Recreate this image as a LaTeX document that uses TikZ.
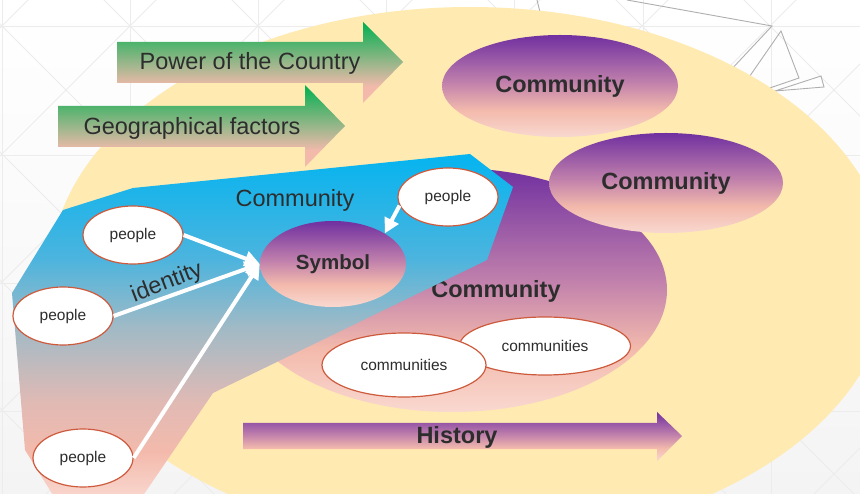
\documentclass[tikz,border=0pt]{standalone}
\usepackage{fontspec}
\setmainfont{Liberation Sans}
\usetikzlibrary{shapes.geometric,arrows.meta}
\definecolor{yel}{RGB}{255,234,178}
\definecolor{purp}{RGB}{112,48,160}
\definecolor{pinkM}{RGB}{243,186,172}
\definecolor{pinkL}{RGB}{249,216,208}
\definecolor{mauve}{RGB}{192,128,172}
\definecolor{grn}{RGB}{0,176,80}
\definecolor{blu}{RGB}{5,180,240}
\definecolor{bA}{RGB}{75,180,222}
\definecolor{bB}{RGB}{160,186,198}
\definecolor{bC}{RGB}{225,186,180}
\definecolor{txt}{RGB}{45,45,45}
\definecolor{edgec}{RGB}{205,90,60}
\definecolor{bgg}{RGB}{244,244,244}
\definecolor{gridc}{RGB}{236,236,236}
\definecolor{zig}{RGB}{175,175,175}
\pgfdeclareverticalshading{purpsh}{100bp}{color(0bp)=(pinkL); color(25bp)=(pinkL); color(38bp)=(pinkM); color(52bp)=(mauve); color(75bp)=(purp); color(100bp)=(purp)}
\pgfdeclareverticalshading{grnsh}{100bp}{color(0bp)=(pinkM); color(25bp)=(pinkM); color(35bp)=(pinkM); color(75bp)=(grn); color(100bp)=(grn)}
\pgfdeclareverticalshading{blush}{100bp}{color(0bp)=(pinkL); color(25bp)=(pinkL); color(32bp)=(pinkM); color(39bp)=(bC); color(50bp)=(bB); color(60bp)=(bA); color(75bp)=(blu); color(100bp)=(blu)}
\begin{document}
\begin{tikzpicture}[x=1pt,y=-1pt,
  gridl/.style={draw=gridc,line width=0.8pt},
  zigl/.style={draw=zig,line width=0.9pt,line join=miter},
  bigtxt/.style={text=txt,font=\fontsize{23.5}{28}\selectfont},
  boldtxt/.style={text=txt,font=\fontsize{23.5}{28}\selectfont\bfseries},
  purpell/.style={ellipse,shading=purpsh,inner sep=0pt,text=txt,font=\fontsize{23.5}{28}\selectfont\bfseries},
  pers/.style={ellipse,fill=white,draw=edgec,line width=1.2pt,inner sep=0pt,minimum width=100pt,minimum height=58pt,text=txt,font=\fontsize{15.5}{18}\selectfont},
  comms/.style={ellipse,fill=white,draw=edgec,line width=1.2pt,inner sep=0pt,text=txt,font=\fontsize{15.5}{18}\selectfont},
  warr/.style={draw=white,line width=4pt,-{Triangle[length=15pt,width=15pt]}}]
\useasboundingbox (0,0) rectangle (860,494);
\clip (0,0) rectangle (860,494);
% background
\shade[top color=white,bottom color=bgg] (0,0) rectangle (860,494);
\foreach \x in {2,130,258,386,514,643,771} \draw[gridl] (\x,0) -- (\x,494);
\foreach \y in {26,155,283,411} \draw[gridl] (0,\y) -- (860,\y);
\foreach \k in {-5,...,7} \draw[gridl] ({104+128*\k-100},-100) -- ({104+128*\k+600},600);
\foreach \k in {-2,...,10} \draw[gridl] ({156+128*\k+100},-100) -- ({156+128*\k-600},600);
% decorative zigzag
\draw[zigl] (537,0) -- (541,16);
\draw[zigl] (627,0) -- (772,26) -- (728,73);
\draw[zigl] (745,83) -- (781,31) -- (799,78) -- (758,92);
\draw[zigl] (775,91) -- (821,76) -- (824,87) -- cycle;
% big yellow ellipse
\fill[yel] (470,275) ellipse [x radius=420pt, y radius=268pt];
% green arrows
\shade[shading=grnsh] (117,42) -- (363,42) -- (363,22) -- (403,62) -- (363,103) -- (363,83) -- (117,83) -- cycle;
\node[bigtxt] (power) at (250,63) {Power of the Country};
\shade[shading=grnsh] (58,106) -- (305,106) -- (305,85) -- (345,126) -- (305,167) -- (305,147) -- (58,147) -- cycle;
\node[bigtxt] (geo) at (192,128) {Geographical factors};
% big purple community ellipse
\shade[shading=purpsh] (452,290) ellipse [x radius=215pt, y radius=122pt];
\node[boldtxt] (cbig) at (496,291) {Community};
% blue polygon
\shade[shading=blush] (12,293) -- (63,210) -- (133,188) -- (470,154) -- (513,187) -- (487,260) -- (213,393) -- (140,500) -- (56,500) -- (25,450) -- cycle;
\node[bigtxt] (cblue) at (295,200) {Community};
% community ellipses
\node[purpell,minimum width=236pt,minimum height=102pt] (c1) at (560,86) {Community};
\node[purpell,minimum width=234pt,minimum height=100pt] (c2) at (666,183) {Community};
% symbol
\node[purpell,minimum width=146pt,minimum height=86pt,font=\fontsize{20.5}{24}\selectfont\bfseries] (sym) at (333,264) {Symbol};
% people
\node[pers] (p1) at (133,235) {people};
\node[pers] (p2) at (63,316) {people};
\node[pers] (p3) at (83,458) {people};
\node[pers] (p4) at (448,197) {people};
% communities
\node[comms,minimum width=171pt,minimum height=58pt] (cm1) at (545,346) {communities};
\node[comms,minimum width=164pt,minimum height=64pt] (cm2) at (404,365) {communities};
% history arrow
\shade[shading=purpsh] (243,423) -- (657,423) -- (657,412) -- (682,436) -- (657,461) -- (657,449) -- (243,449) -- cycle;
\node[boldtxt] (hist) at (457,437) {History};
% white arrows
\draw[warr] (p1.east) -- (sym.west);
\draw[warr] (p2.east) -- (sym.west);
\draw[warr] (p3.east) -- (sym.west);
\draw[warr] (p4.190) -- (sym.north east);
\node[bigtxt,rotate=21,inner sep=1pt] (ident) at (167,283) {identity};
\end{tikzpicture}
\end{document}
